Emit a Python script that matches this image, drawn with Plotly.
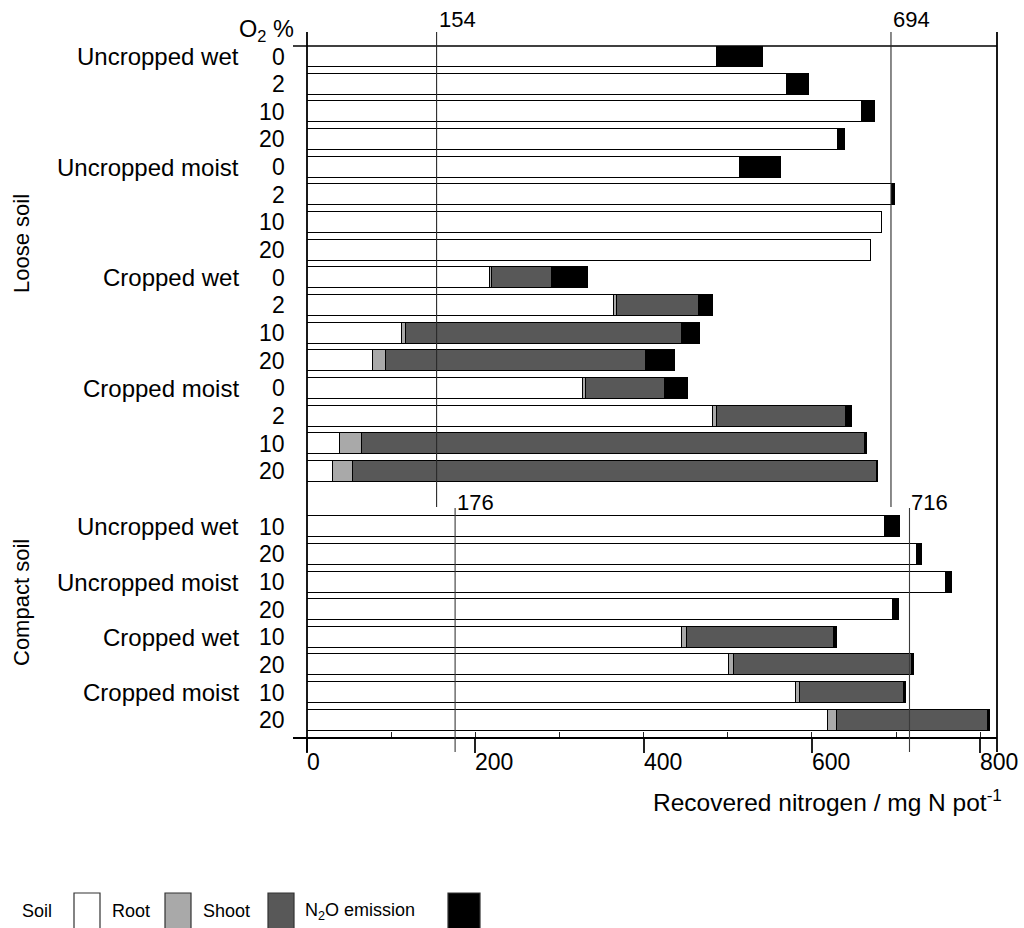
import plotly.graph_objects as go

# ---- data -------------------------------------------------------------
group_labels = ["Uncropped wet", "Uncropped moist", "Cropped wet", "Cropped moist",
                "Uncropped wet", "Uncropped moist", "Cropped wet", "Cropped moist"]
group_rows = [0, 4, 8, 12, 17, 19, 21, 23]

o2_labels = ["0", "2", "10", "20"] * 4 + ["10", "20"] * 4
# row slots: 16 loose-soil bars, one empty slot, 8 compact-soil bars
row_pos = list(range(16)) + list(range(17, 25))

soil = [487, 571, 659, 631, 514, 695, 683, 670,
        217, 365, 113, 79, 328, 483, 39, 31,
        687, 725, 759, 696, 446, 501, 581, 619]
root = [0, 0, 0, 0, 0, 0, 0, 0,
        3, 3, 5, 15, 3, 4, 26, 24,
        0, 0, 0, 0, 5, 6, 5, 11]
shoot = [0, 0, 0, 0, 0, 0, 0, 0,
         71, 98, 328, 309, 94, 154, 598, 622,
         0, 0, 0, 0, 175, 212, 123, 179]
n2o = [55, 26, 16, 8, 49, 4, 0, 0,
       43, 16, 21, 34, 28, 7, 3, 1,
       18, 6, 8, 8, 4, 2, 3, 3]

ref_loose = [154, 694]
ref_compact = [176, 716]

x_ticks = [0, 200, 400, 600, 800]
x_tick_text = ["0", "200", "400", "600", "800"]
x_max = 820

series = [("Soil", soil, "#ffffff"), ("Root", root, "#a9a9a9"),
          ("Shoot", shoot, "#585858"), ("N<sub>2</sub>O emission", n2o, "#000000")]

FONT = "Liberation Sans, Arial, Helvetica, sans-serif"

# ---- layout geometry (pixels) ------------------------------------------
W, H = 1024, 928
L, R, T, B = 307, 27, 46, 190
PW, PH = W - L - R, H - T - B


def px_x(p):
    return (p - L) / PW


def px_y(p):
    return (H - B - p) / PH


fig = go.Figure()

for name, vals, color in series:
    fig.add_trace(go.Bar(
        y=row_pos,
        x=[v if v else None for v in vals],
        orientation="h",
        name=name,
        width=0.76,
        marker=dict(color=color, line=dict(color="#000000", width=1.5)),
        showlegend=False,
        hoverinfo="skip",
    ))

# helper axis carrying the short inside ticks
fig.add_trace(go.Scatter(x=[0], y=[0], xaxis="x2", mode="markers",
                         marker=dict(opacity=0), showlegend=False, hoverinfo="skip"))

shapes = []
# frame: left axis, right edge, top line, bottom axis
shapes.append(dict(type="line", xref="paper", yref="paper", x0=0, x1=0,
                   y0=px_y(32), y1=px_y(752), line=dict(color="black", width=1.8)))
shapes.append(dict(type="line", xref="paper", yref="paper", x0=1, x1=1,
                   y0=px_y(32), y1=px_y(752), line=dict(color="black", width=1.8)))
shapes.append(dict(type="line", xref="paper", yref="paper", x0=px_x(293), x1=1,
                   y0=1, y1=1, line=dict(color="black", width=1.5)))
shapes.append(dict(type="line", xref="paper", yref="paper", x0=px_x(293), x1=1,
                   y0=0, y1=0, line=dict(color="black", width=1.8)))

# reference lines for each soil block
for v in ref_loose:
    shapes.append(dict(type="line", xref="x", yref="paper", x0=v, x1=v,
                       y0=px_y(32), y1=px_y(507), line=dict(color="#2a2a2a", width=1.1)))
for v in ref_compact:
    shapes.append(dict(type="line", xref="x", yref="paper", x0=v, x1=v,
                       y0=px_y(508), y1=px_y(752), line=dict(color="#3a3a3a", width=1.1)))

annotations = []
for v in ref_loose:
    annotations.append(dict(x=v, xref="x", y=px_y(20), yref="paper", text=str(v),
                            xanchor="left", yanchor="middle", showarrow=False,
                            font=dict(size=22, family=FONT, color="black")))
for v in ref_compact:
    annotations.append(dict(x=v, xref="x", y=px_y(502), yref="paper", text=str(v),
                            xanchor="left", yanchor="middle", showarrow=False,
                            font=dict(size=22, family=FONT, color="black")))

# x tick labels start at their tick
for v, txt in zip(x_ticks, x_tick_text):
    annotations.append(dict(x=v, xref="x", y=px_y(762), yref="paper", text=txt,
                            xanchor="left", yanchor="middle", showarrow=False,
                            xshift=-2,
                            font=dict(size=23, family=FONT, color="black")))

# row labels
for txt, r in zip(group_labels, group_rows):
    annotations.append(dict(x=px_x(241), xref="paper", y=r, yref="y", text=txt,
                            xanchor="right", yanchor="middle", showarrow=False,
                            font=dict(size=24, family=FONT, color="black")))
for txt, r in zip(o2_labels, row_pos):
    annotations.append(dict(x=px_x(287), xref="paper", y=r, yref="y", text=txt,
                            xanchor="right", yanchor="middle", showarrow=False,
                            font=dict(size=23, family=FONT, color="black")))

annotations.append(dict(x=px_x(296), xref="paper", y=px_y(31), yref="paper",
                        text="O<sub>2</sub> %", xanchor="right", yanchor="middle",
                        showarrow=False, font=dict(size=23.5, family=FONT, color="black")))

annotations.append(dict(x=px_x(21), xref="paper", y=px_y(244), yref="paper",
                        text="Loose soil", textangle=-90, xanchor="center", yanchor="middle",
                        showarrow=False, font=dict(size=22, family=FONT, color="black")))
annotations.append(dict(x=px_x(21), xref="paper", y=px_y(603), yref="paper",
                        text="Compact soil", textangle=-90, xanchor="center", yanchor="middle",
                        showarrow=False, font=dict(size=22, family=FONT, color="black")))

annotations.append(dict(x=px_x(1004), xref="paper", y=px_y(800), yref="paper",
                        text="Recovered nitrogen / mg N pot<sup>-1</sup>",
                        xanchor="right", yanchor="middle", showarrow=False,
                        font=dict(size=24.5, family=FONT, color="black")))

# legend row: label followed by its swatch
legend_items = [("Soil", 20, 74, 100), ("Root", 110, 165, 191),
                ("Shoot", 201, 268, 294), ("N<sub>2</sub>O emission", 303, 448, 480)]
for (label, tx, bx0, bx1), (_, _, color) in zip(legend_items, series):
    annotations.append(dict(x=px_x(tx), xref="paper", y=px_y(911), yref="paper",
                            text=label, xanchor="left", yanchor="middle", showarrow=False,
                            font=dict(size=18, family=FONT, color="black")))
    shapes.append(dict(type="rect", xref="paper", yref="paper",
                       x0=px_x(bx0), x1=px_x(bx1), y0=px_y(893), y1=px_y(940),
                       fillcolor=color, line=dict(color="#333333", width=1.2)))

fig.update_layout(
    width=W, height=H,
    margin=dict(l=L, r=R, t=T, b=B, pad=0),
    paper_bgcolor="white", plot_bgcolor="white",
    barmode="stack", bargap=0,
    font=dict(family=FONT, size=23, color="black"),
    xaxis=dict(range=[0, x_max], tickvals=x_ticks, ticks="outside", ticklen=14,
               tickwidth=1.5, tickcolor="#222222", showline=False, showgrid=False,
               zeroline=False, showticklabels=False),
    xaxis2=dict(range=[0, x_max], overlaying="x", anchor="y", side="bottom",
                tick0=0, dtick=100, ticks="inside", ticklen=6, tickwidth=1.3,
                tickcolor="#222222", showticklabels=False, showgrid=False,
                zeroline=False, showline=False),
    yaxis=dict(range=[24.64, -0.38], showticklabels=False, ticks="", showgrid=False,
               zeroline=False, showline=False),
    shapes=shapes,
    annotations=annotations,
)

fig.write_html("out.html")
